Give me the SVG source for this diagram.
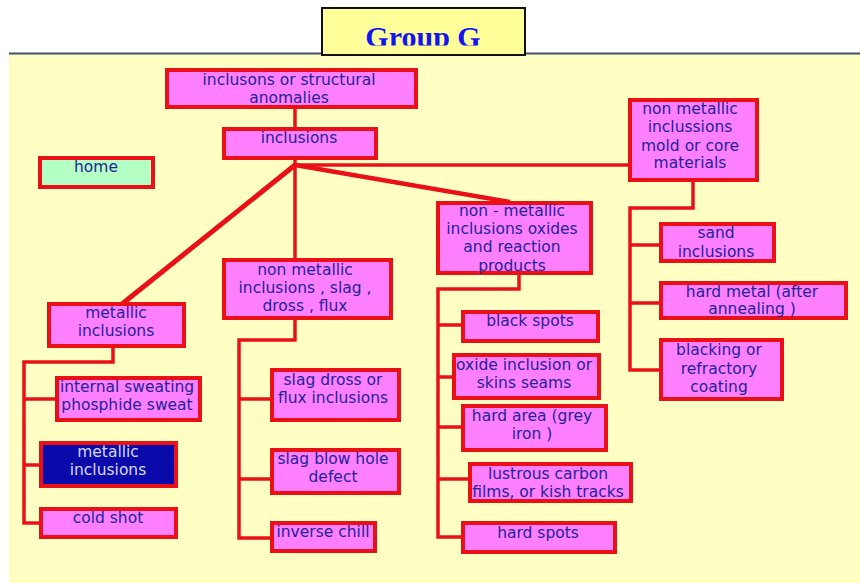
<svg xmlns="http://www.w3.org/2000/svg" width="860" height="583" viewBox="0 0 860 583">
<style>
.n{fill:#FF80FF;stroke:#EA1018;stroke-width:4}
.h{fill:#B4FFC4;stroke:#EA1018;stroke-width:4}
.d{fill:#0A0AAA;stroke:#EA1018;stroke-width:4}
.t{font-family:"DejaVu Sans",Verdana,sans-serif;font-size:15.5px;fill:#24229A;text-anchor:middle}
.tl{font-family:"DejaVu Sans",Verdana,sans-serif;font-size:15.5px;fill:#D8D8FF;text-anchor:middle}
.c{fill:none;stroke:#EA1018;stroke-width:3.5;stroke-linejoin:miter}
</style>
<defs>
<clipPath id="tc"><rect x="322" y="8" width="203" height="37.5"/></clipPath>
</defs>
<rect x="0" y="0" width="860" height="583" fill="#FFFFFF"/>
<rect x="9" y="54" width="851" height="529" fill="#FFFFC4"/>
<line x1="9" y1="53.5" x2="860" y2="53.5" stroke="#3C5070" stroke-width="2"/>
<g id="title">
<rect x="322" y="8" width="203" height="47" fill="#FFFF99" stroke="#111111" stroke-width="2"/>
<text x="423" y="47" clip-path="url(#tc)" font-family="Liberation Serif,serif" font-weight="bold" font-size="30" fill="#1414EE" text-anchor="middle">Group G</text>
</g>
<g id="connectors">
<polyline class="c" points="295,108 295,128"/>
<polyline class="c" points="295,159 295,259"/>
<polyline class="c" points="295,165 629,165"/>
<line x1="295" y1="165" x2="122" y2="304" stroke="#EA1018" stroke-width="5"/>
<line x1="295" y1="165" x2="510" y2="202" stroke="#EA1018" stroke-width="4.5"/>
<polyline class="c" points="113,347 113,362 24,362 24,523 40,523"/>
<polyline class="c" points="24,399 56,399"/>
<polyline class="c" points="24,465 40,465"/>
<polyline class="c" points="295,319 295,340 239,340 239,538 271,538"/>
<polyline class="c" points="239,399 271,399"/>
<polyline class="c" points="239,479 271,479"/>
<polyline class="c" points="519,274 519,289 438,289 438,537 462,537"/>
<polyline class="c" points="438,325 462,325"/>
<polyline class="c" points="438,377 453,377"/>
<polyline class="c" points="438,427 462,427"/>
<polyline class="c" points="438,479 469,479"/>
<polyline class="c" points="693,180 693,208 630,208 630,370 660,370"/>
<polyline class="c" points="630,245 660,245"/>
<polyline class="c" points="630,303 660,303"/>
</g>
<g id="n1"><rect class="n" x="167" y="70" width="249" height="37"/><text class="t" x="289" y="85">inclusons or structural</text><text class="t" x="289" y="103">anomalies</text></g>
<g id="n2"><rect class="n" x="224" y="129" width="152" height="29"/><text class="t" x="299" y="143">inclusions</text></g>
<g id="home"><rect class="h" x="40" y="158" width="113" height="29"/><text class="t" x="96" y="172">home</text></g>
<g id="n4"><rect class="n" x="630" y="100" width="127" height="80"/><text class="t" x="690" y="114">non metallic</text><text class="t" x="690" y="132">inclussions</text><text class="t" x="690" y="151">mold or core</text><text class="t" x="690" y="168">materials</text></g>
<g id="n5"><rect class="n" x="49" y="304" width="135" height="42"/><text class="t" x="116" y="318">metallic</text><text class="t" x="116" y="336">inclusions</text></g>
<g id="n6"><rect class="n" x="224" y="260" width="167" height="58"/><text class="t" x="305" y="275">non metallic</text><text class="t" x="305" y="293">inclusions , slag ,</text><text class="t" x="305" y="311">dross , flux</text></g>
<g id="n7"><rect class="n" x="438" y="203" width="153" height="70"/><text class="t" x="512" y="216">non - metallic</text><text class="t" x="512" y="234">inclusions oxides</text><text class="t" x="512" y="252">and reaction</text><text class="t" x="512" y="271">products</text></g>
<g id="n8"><rect class="n" x="661" y="224" width="113" height="37"/><text class="t" x="716" y="238">sand</text><text class="t" x="716" y="257">inclusions</text></g>
<g id="n9"><rect class="n" x="661" y="283" width="185" height="35"/><text class="t" x="752" y="297">hard metal (after</text><text class="t" x="752" y="314">annealing )</text></g>
<g id="n10"><rect class="n" x="661" y="340" width="121" height="59"/><text class="t" x="719" y="355">blacking or</text><text class="t" x="719" y="374">refractory</text><text class="t" x="719" y="392">coating</text></g>
<g id="n11"><rect class="n" x="57" y="378" width="143" height="42"/><text class="t" x="127" y="392">internal sweating</text><text class="t" x="127" y="410">phosphide sweat</text></g>
<g id="n12"><rect class="d" x="41" y="443" width="135" height="43"/><text class="tl" x="108" y="457">metallic</text><text class="tl" x="108" y="475">inclusions</text></g>
<g id="n13"><rect class="n" x="41" y="509" width="135" height="28"/><text class="t" x="108" y="523">cold shot</text></g>
<g id="n14"><rect class="n" x="272" y="370" width="127" height="50"/><text class="t" x="333" y="385">slag dross or</text><text class="t" x="333" y="403">flux inclusions</text></g>
<g id="n15"><rect class="n" x="272" y="450" width="127" height="43"/><text class="t" x="333" y="464">slag blow hole</text><text class="t" x="333" y="482">defect</text></g>
<g id="n16"><rect class="n" x="272" y="523" width="103" height="28"/><text class="t" x="323" y="537">inverse chill</text></g>
<g id="n17"><rect class="n" x="463" y="312" width="135" height="29"/><text class="t" x="530" y="326">black spots</text></g>
<g id="n18"><rect class="n" x="454" y="355" width="145" height="43"/><text class="t" x="524" y="370">oxide inclusion or</text><text class="t" x="524" y="388">skins seams</text></g>
<g id="n19"><rect class="n" x="463" y="406" width="143" height="44"/><text class="t" x="532" y="421">hard area (grey</text><text class="t" x="532" y="439">iron )</text></g>
<g id="n20"><rect class="n" x="470" y="464" width="161" height="37"/><text class="t" x="548" y="479">lustrous carbon</text><text class="t" x="548" y="497">films, or kish tracks</text></g>
<g id="n21"><rect class="n" x="463" y="523" width="152" height="29"/><text class="t" x="538" y="538">hard spots</text></g>
</svg>
